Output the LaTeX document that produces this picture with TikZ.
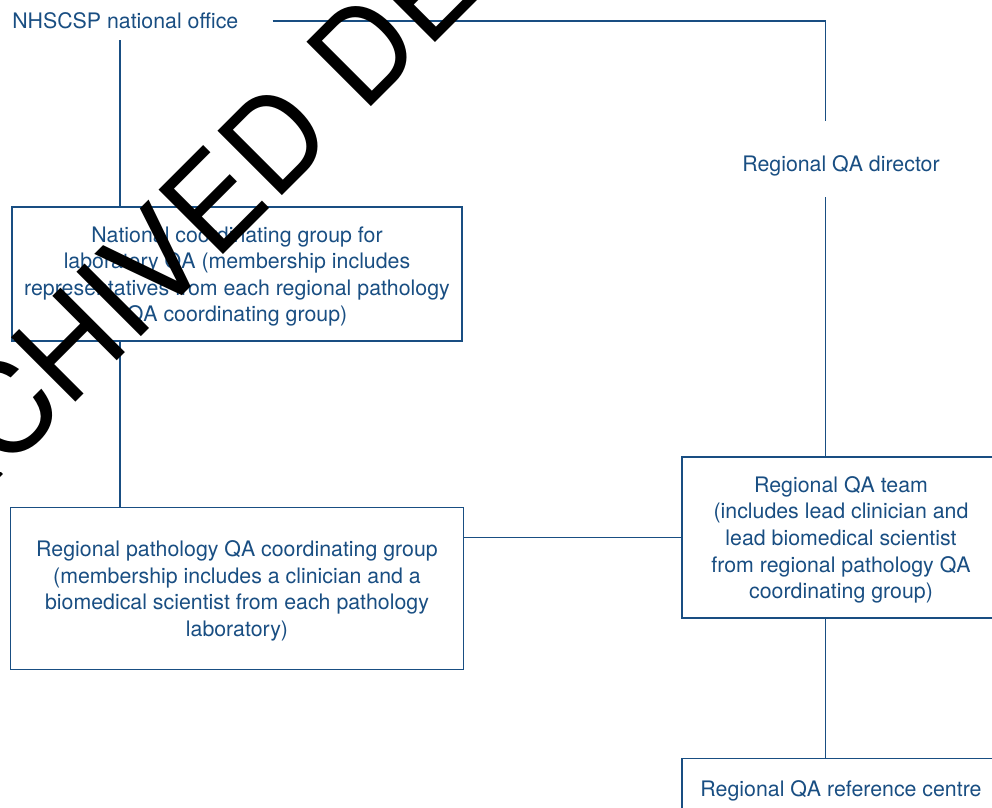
\documentclass[tikz,border=0pt]{standalone}
\usepackage{fontspec}
\setmainfont{TeX Gyre Heros}
\usetikzlibrary{positioning, calc}
\definecolor{nhsblue}{RGB}{25,78,130}

\begin{document}
\begin{tikzpicture}[
    x=0.75pt, y=-0.75pt,
    every node/.style={text=nhsblue, font=\fontsize{16}{19.9}\selectfont},
    box/.style={rectangle, draw=nhsblue, line width=1pt, align=center, text depth=0pt,
        execute at begin node={\rule{0pt}{17.5pt}}},
    ghost/.style={rectangle, align=center, text depth=0pt,
        execute at begin node={\rule{0pt}{18pt}}},
    link/.style={draw=nhsblue, line width=1pt}
]
\useasboundingbox (0,0) rectangle (992,807);
\clip (0,0) rectangle (992,807);

% National level
\node[anchor=west, inner sep=0pt] (office) at (12,21) {NHSCSP national office};
\node[box, minimum width=337.5pt, minimum height=100.5pt] (natl) at (237,274) {National coordinating group for\\laboratory QA (membership includes\\representatives from each regional pathology\\QA coordinating group)};

% Regional level
\node[box, minimum width=339.75pt, minimum height=121.5pt, below=123.75pt of natl] (regpath) {Regional pathology QA coordinating group\\(membership includes a clinician and a\\biomedical scientist from each pathology\\laboratory)};
\node[box, minimum width=238.5pt, minimum height=120.75pt] (team) at (841,537.5) {Regional QA team\\(includes lead clinician and\\lead biomedical scientist\\from regional pathology QA\\coordinating group)};
\node[box, minimum width=238.5pt, minimum height=40pt, below=104.25pt of team] (refc) {Regional QA reference centre};
\node[ghost, minimum width=238.5pt, minimum height=57pt, above=194.25pt of team] (director) {Regional QA director};

% Lines
\coordinate (trunk) at (120,40);
\coordinate (spine) at ($(team.north west)+(144,0)$);
\draw[link] (trunk) -- (trunk |- natl.north);
\draw[link] (trunk |- natl.south) -- (trunk |- regpath.north);
\draw[link] ([xshift=25.5pt]office.east) -| (spine |- director.north);
\draw[link] (spine |- director.south) -- (spine |- team.north);
\draw[link] (spine |- team.south) -- (spine |- refc.north);
\draw[link] (team.west) -- (team.west -| regpath.east);

% Watermark
\node[text=black, font=\fontsize{93.75}{93.75}\selectfont, rotate=45, anchor=base west, inner sep=0pt] (stamp) at (-116,594) {ARCHIVED DE};

\end{tikzpicture}
\end{document}
